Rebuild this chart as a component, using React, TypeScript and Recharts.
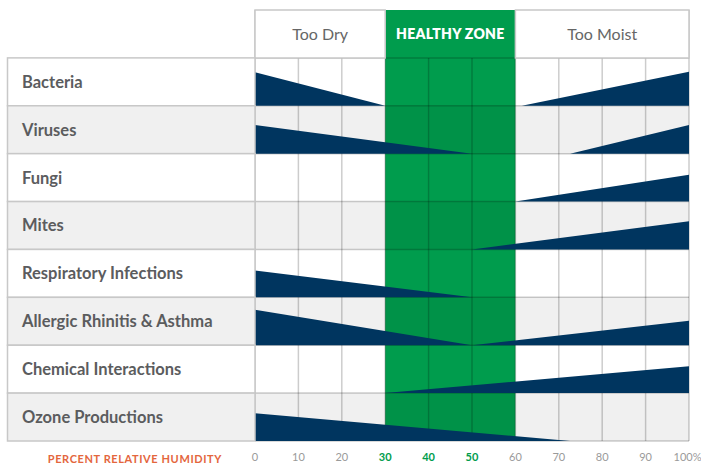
import { ComposedChart, Area, XAxis, YAxis, ReferenceArea, ReferenceLine, Label } from "recharts";

const ROWS = [
  "Bacteria",
  "Viruses",
  "Fungi",
  "Mites",
  "Respiratory Infections",
  "Allergic Rhinitis & Asthma",
  "Chemical Interactions",
  "Ozone Productions",
];

const ZONES = [
  { label: "Too Dry", from: 0, to: 30 },
  { label: "HEALTHY ZONE", from: 30, to: 60 },
  { label: "Too Moist", from: 60, to: 100 },
];

const HUMIDITY_TICKS = [0, 10, 20, 30, 40, 50, 60, 70, 80, 90, 100];
const HEALTHY_TICKS = [30, 40, 50];

// level = share of the row height the wedge reaches at that humidity
const bacteriaDry = [{ rh: 0, level: 0.7 }, { rh: 30, level: 0 }];
const bacteriaMoist = [{ rh: 61.5, level: 0 }, { rh: 100, level: 0.71 }];
const virusesDry = [{ rh: 0, level: 0.6 }, { rh: 50, level: 0 }];
const virusesMoist = [{ rh: 72.6, level: 0 }, { rh: 100, level: 0.6 }];
const fungiMoist = [{ rh: 60, level: 0 }, { rh: 100, level: 0.56 }];
const mitesMoist = [{ rh: 50, level: 0 }, { rh: 100, level: 0.59 }];
const respiratoryDry = [{ rh: 0, level: 0.56 }, { rh: 50, level: 0 }];
const allergicDry = [{ rh: 0, level: 0.74 }, { rh: 50, level: 0 }];
const allergicMoist = [{ rh: 50, level: 0 }, { rh: 100, level: 0.51 }];
const chemicalMoist = [{ rh: 30, level: 0 }, { rh: 100, level: 0.56 }];
const ozoneDry = [{ rh: 0, level: 0.58 }, { rh: 72.6, level: 0 }];

const WEDGES = [
  { row: 0, data: bacteriaDry },
  { row: 0, data: bacteriaMoist },
  { row: 1, data: virusesDry },
  { row: 1, data: virusesMoist },
  { row: 2, data: fungiMoist },
  { row: 3, data: mitesMoist },
  { row: 4, data: respiratoryDry },
  { row: 5, data: allergicDry },
  { row: 5, data: allergicMoist },
  { row: 6, data: chemicalMoist },
  { row: 7, data: ozoneDry },
];

// chart is pinned to the top-left corner so it can use the whole window
const W = 701;
const H = 464;
const LEFT_W = 255;
const TABLE_X = 7.5;
const AXIS_H = 23;
const MARGIN = { top: 10, right: 12, bottom: 0, left: 0 };
const ROW_H = (H - MARGIN.top - AXIS_H) / 9;

const NAVY = "#00355f";
const GREEN = "#009c4d";
const LINE = "rgba(0,0,0,0.2)";
const FONT = "Lato, 'Open Sans', sans-serif";

const rowBase = (i: number) => 7 - i;

function RowLabel(props: any) {
  const { y, payload } = props;
  const i = Math.round(7.5 - payload.value);
  return (
    <g>
      <rect
        x={TABLE_X}
        y={y - ROW_H / 2}
        width={LEFT_W - TABLE_X}
        height={ROW_H}
        fill={i % 2 ? "#f0f0f0" : "#ffffff"}
        stroke="#c8c8c8"
        strokeWidth={1.5}
      />
      <text x={22} y={y} dy="0.36em" fontFamily={FONT} fontWeight={700} fontSize={16.5} fill="#5b5c5e">
        {ROWS[i]}
      </text>
    </g>
  );
}

function HumidityTick(props: any) {
  const { x, y, payload } = props;
  const v = payload.value;
  const last = v === 100;
  return (
    <text
      x={last ? x - 1.5 : x}
      y={y}
      dy="0.71em"
      textAnchor="middle"
      fontFamily={FONT}
      fontSize={11}
      fill={HEALTHY_TICKS.includes(v) ? GREEN : "#9a9a9a"}
      fontWeight={HEALTHY_TICKS.includes(v) ? 700 : 400}
    >
      {last ? "100%" : String(v)}
    </text>
  );
}

function AxisTitle(props: any) {
  const { viewBox } = props;
  return (
    <text
      x={viewBox.x - 33}
      y={viewBox.y + 18}
      dy="0.36em"
      textAnchor="end"
      fontFamily={FONT}
      fontSize={11}
      fontWeight={700}
      letterSpacing={0.6}
      fill="#e4663d"
    >
      PERCENT RELATIVE HUMIDITY
    </text>
  );
}

export default function App() {
  return (
    <div style={{ position: "fixed", left: 0, top: 0, width: W, height: H, background: "#fff" }}>
      <ComposedChart width={W} height={H} margin={MARGIN}>
        <XAxis
          dataKey="rh"
          type="number"
          domain={[0, 100]}
          ticks={HUMIDITY_TICKS}
          interval={0}
          axisLine={false}
          tickLine={false}
          tickMargin={6}
          tick={<HumidityTick />}
          allowDataOverflow
          height={AXIS_H}
        >
          <Label content={<AxisTitle />} />
        </XAxis>
        <YAxis
          type="number"
          domain={[0, 9]}
          ticks={[7.5, 6.5, 5.5, 4.5, 3.5, 2.5, 1.5, 0.5]}
          interval={0}
          width={LEFT_W}
          axisLine={false}
          tickLine={false}
          tick={<RowLabel />}
          allowDataOverflow
        />

        <ReferenceArea x1={30} x2={60} y1={0} y2={9} fill={GREEN} fillOpacity={1} stroke="none" zIndex={-60} />
        {ROWS.map((r, i) =>
          i % 2 ? (
            <ReferenceArea
              key={r}
              x1={0}
              x2={100}
              y1={rowBase(i)}
              y2={rowBase(i) + 1}
              fill="#000"
              fillOpacity={0.06}
              stroke="none"
              zIndex={-50}
            />
          ) : null
        )}
        {HUMIDITY_TICKS.map((v) => (
          <ReferenceLine
            key={"v" + v}
            segment={[{ x: v, y: 0 }, { x: v, y: v === 0 || v === 100 ? 9 : 8 }]}
            stroke={LINE}
            strokeWidth={1.5}
            zIndex={-40}
          />
        ))}
        {[0, 1, 2, 3, 4, 5, 6, 7, 8].map((k) => (
          <ReferenceLine key={"h" + k} y={k} stroke={LINE} strokeWidth={1.5} zIndex={-40} />
        ))}
        {ZONES.map((z, i) => (
          <ReferenceArea
            key={z.label}
            x1={z.from}
            x2={z.to}
            y1={8}
            y2={9}
            fill={i === 1 ? "none" : "#ffffff"}
            fillOpacity={1}
            stroke={i === 1 ? "none" : "#c8c8c8"}
            strokeWidth={1.5}
            zIndex={-30}
            label={{
              value: z.label,
              position: "center",
              fill: i === 1 ? "#ffffff" : "#666666",
              fontFamily: FONT,
              fontSize: i === 1 ? 14 : 16,
              fontWeight: i === 1 ? 800 : 400,
              letterSpacing: i === 1 ? 0.3 : 0,
            }}
          />
        ))}

        {WEDGES.map((w, i) => (
          <Area
            key={i}
            data={w.data}
            dataKey={(d: any) => [rowBase(w.row), rowBase(w.row) + d.level]}
            type="linear"
            fill={NAVY}
            fillOpacity={1}
            stroke="none"
            dot={false}
            activeDot={false}
            isAnimationActive={false}
          />
        ))}
      </ComposedChart>
    </div>
  );
}
